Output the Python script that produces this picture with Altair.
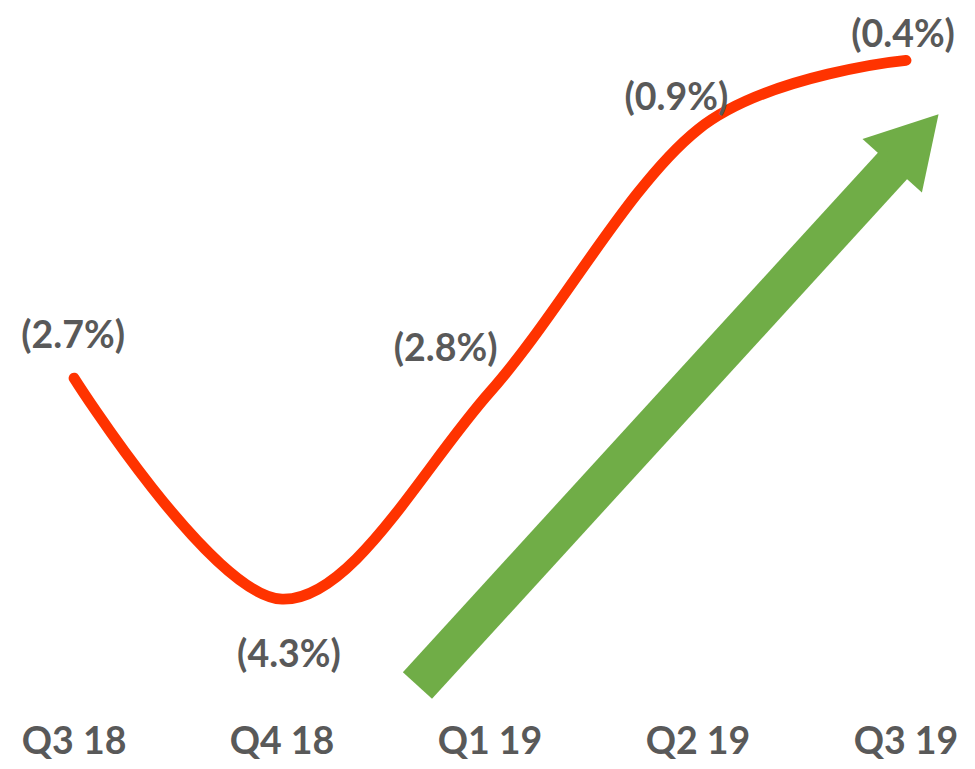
import altair as alt
import pandas as pd

quarters = ["Q3 18", "Q4 18", "Q1 19", "Q2 19", "Q3 19"]
values = [-2.7, -4.3, -2.8, -0.9, -0.4]
labels = ["(2.7%)", "(4.3%)", "(2.8%)", "(0.9%)", "(0.4%)"]

# green trend arrow (data units: quarter index, percent)
arrow_shaft_x = [1.651, 3.948]
arrow_shaft_y = [-4.925, -1.143]
arrow_head_x = [4.045]
arrow_head_y = [-0.977]

# label offsets in pixels (layout only)
label_dx = [-1, 7, -45, -22, -3]
label_dy = [-41, 58, -42, -31, -25]

df = pd.DataFrame({"idx": list(range(len(quarters))), "q": quarters, "v": values, "lab": labels})

FONT = "Lato"
GRAY = "#595959"
AXIS_Y = -5.34  # position of the category labels below the curve

xscale = alt.Scale(domain=[-0.356, 4.270], nice=False, zero=False)
yscale = alt.Scale(domain=[-5.4929, 0], nice=False, zero=False)

line = alt.Chart(df).mark_line(color="#FF3300", strokeWidth=11, strokeCap="round", interpolate="cardinal").encode(
    x=alt.X("idx:Q", scale=xscale, axis=None),
    y=alt.Y("v:Q", scale=yscale, axis=None),
)

text_layers = []
for i in range(len(quarters)):
    t = alt.Chart(df).transform_filter(alt.datum.idx == i).mark_text(
        font=FONT, fontSize=38, fontWeight="bold", color=GRAY, dx=label_dx[i], dy=label_dy[i],
        baseline="middle", align="center"
    ).encode(x=alt.X("idx:Q", scale=xscale, axis=None), y=alt.Y("v:Q", scale=yscale, axis=None), text="lab:N")
    text_layers.append(t)

cat_labels = alt.Chart(df).mark_text(
    font=FONT, fontSize=38, fontWeight="bold", color=GRAY, baseline="middle", align="center"
).encode(
    x=alt.X("idx:Q", scale=xscale, axis=None),
    y=alt.datum(AXIS_Y, scale=yscale, axis=None),
    text="q:N",
)

shaft_df = pd.DataFrame({"ax": arrow_shaft_x, "ay": arrow_shaft_y})
shaft = alt.Chart(shaft_df).mark_line(color="#70AD47", strokeWidth=40, strokeCap="butt").encode(
    x=alt.X("ax:Q", scale=xscale, axis=None), y=alt.Y("ay:Q", scale=yscale, axis=None)
)
head_df = pd.DataFrame({"hx": arrow_head_x, "hy": arrow_head_y})
head = alt.Chart(head_df).mark_point(
    shape="triangle-up", filled=True, color="#70AD47", opacity=1, size=6561, angle=42
).encode(x=alt.X("hx:Q", scale=xscale, axis=None), y=alt.Y("hy:Q", scale=yscale, axis=None))

chart = alt.layer(shaft, head, line, *text_layers, cat_labels).properties(
    width=975, height=769, padding=0
).configure_view(stroke="white")

chart.save("out.html", embed_options={"renderer": "svg", "actions": False})
